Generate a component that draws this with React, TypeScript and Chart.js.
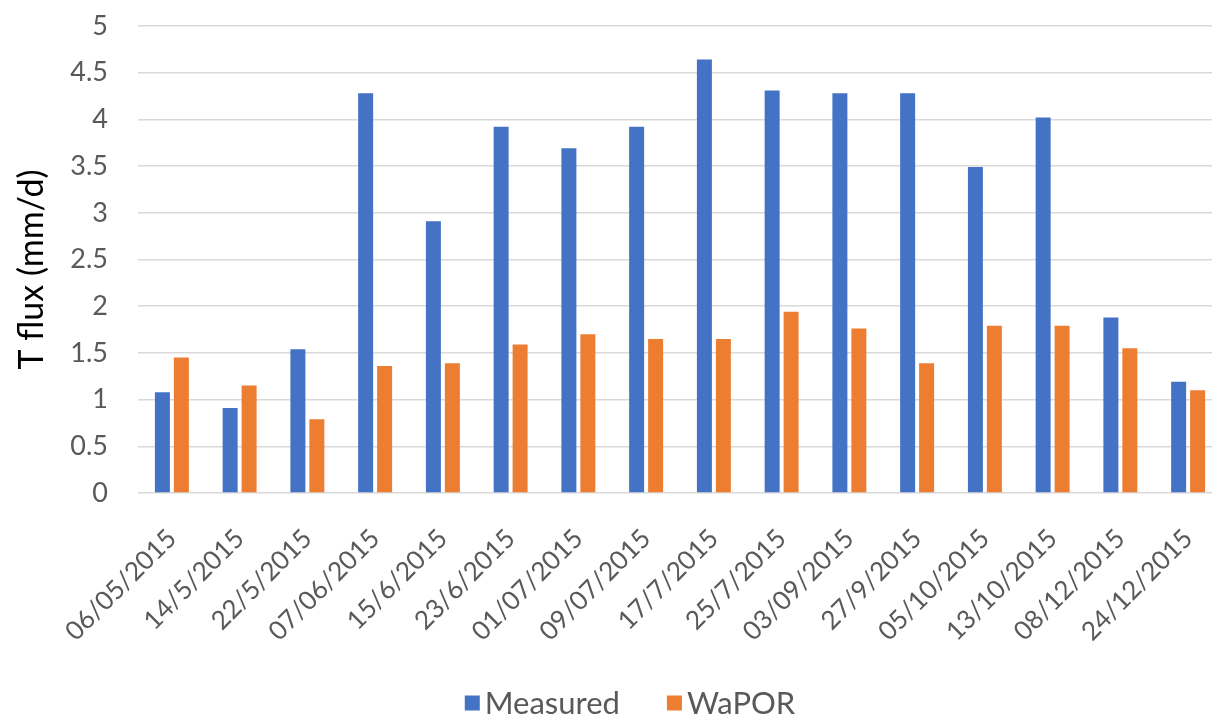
import React, { useEffect, useRef } from "react";
import { Chart, registerables } from "chart.js";

Chart.register(...registerables);

// Sampling dates (category axis)
const dates = [
  "06/05/2015", "14/5/2015", "22/5/2015", "07/06/2015", "15/6/2015", "23/6/2015",
  "01/07/2015", "09/07/2015", "17/7/2015", "25/7/2015", "03/09/2015", "27/9/2015",
  "05/10/2015", "13/10/2015", "08/12/2015", "24/12/2015",
];

// Transpiration flux, mm/d
const measured = [1.08, 0.91, 1.54, 4.28, 2.91, 3.92, 3.69, 3.92, 4.64, 4.31, 4.28, 4.28, 3.49, 4.02, 1.88, 1.19];
const wapor = [1.45, 1.15, 0.79, 1.36, 1.39, 1.59, 1.70, 1.65, 1.65, 1.94, 1.76, 1.39, 1.79, 1.79, 1.55, 1.10];

const yMin = 0;
const yMax = 5;
const yStep = 0.5;
const yTitle = "T flux (mm/d)";

const FONT = "Lato, 'Open Sans', sans-serif";
const GREY = "#595959";

// Rotated y-axis title, drawn left of the tick labels
const yTitlePlugin = {
  id: "yTitle",
  afterDraw(chart: any) {
    const { ctx, chartArea } = chart;
    ctx.save();
    ctx.translate(32, (chartArea.top + chartArea.bottom) / 2 + 10);
    ctx.rotate(-Math.PI / 2);
    ctx.font = `34px ${FONT}`;
    ctx.fillStyle = "#000000";
    ctx.textAlign = "center";
    ctx.textBaseline = "middle";
    ctx.fillText(yTitle, 0, 0);
    ctx.restore();
  },
};

// Compact legend row under the axis labels
const legendPlugin = {
  id: "bottomLegend",
  afterDraw(chart: any) {
    const { ctx } = chart;
    const sets = chart.data.datasets;
    const box = 15;
    const gap = 5;
    const spacing = 47;
    ctx.save();
    ctx.font = `31px ${FONT}`;
    const widths = sets.map((d: any) => box + gap + ctx.measureText(d.label).width);
    const total = widths.reduce((a: number, b: number) => a + b, 0) + spacing * (sets.length - 1);
    let x = 630 - total / 2;
    const y = 703;
    ctx.textBaseline = "middle";
    ctx.textAlign = "left";
    sets.forEach((d: any, i: number) => {
      ctx.fillStyle = d.backgroundColor;
      ctx.fillRect(x, y - box / 2, box, box);
      ctx.fillStyle = GREY;
      ctx.fillText(d.label, x + box + gap, y + 1);
      x += widths[i] + spacing;
    });
    ctx.restore();
  },
};

export default function App() {
  const canvasRef = useRef<HTMLCanvasElement | null>(null);

  useEffect(() => {
    if (!canvasRef.current) return;
    const chart = new Chart(canvasRef.current, {
      type: "bar",
      data: {
        labels: dates,
        datasets: [
          { label: "Measured", data: measured, backgroundColor: "#4472C4" },
          { label: "WaPOR", data: wapor, backgroundColor: "#ED7D31" },
        ],
      },
      plugins: [yTitlePlugin, legendPlugin],
      options: {
        responsive: false,
        animation: false,
        devicePixelRatio: 1,
        layout: { padding: { top: 26, left: 0, right: 0, bottom: 50 } },
        datasets: {
          bar: { categoryPercentage: 0.56, barPercentage: 0.79 },
        },
        plugins: {
          title: { display: false },
          tooltip: { enabled: false },
          legend: { display: false },
        },
        scales: {
          x: {
            grid: { display: false },
            border: { display: false },
            ticks: {
              font: { family: FONT, size: 26 },
              color: GREY,
              maxRotation: 45,
              minRotation: 45,
              autoSkip: false,
              padding: 22,
            },
            afterFit: (scale: any) => {
              scale.height = 174;
              scale.paddingLeft = 0;
              scale.paddingRight = 0;
            },
          },
          y: {
            min: yMin,
            max: yMax,
            grid: { color: "#d9d9d9", lineWidth: 1.5, drawTicks: false },
            border: { display: false },
            ticks: {
              stepSize: yStep,
              font: { family: FONT, size: 27 },
              color: GREY,
              padding: 30,
              callback: (v: any) => String(v),
            },
            afterFit: (scale: any) => {
              scale.width = 138;
              scale.paddingTop = 0;
              scale.paddingBottom = 0;
            },
          },
        },
      },
    });
    return () => chart.destroy();
  }, []);

  return (
    <div
      style={{
        position: "fixed",
        left: 0,
        top: 0,
        width: 1212,
        height: 717,
        overflow: "hidden",
        background: "#ffffff",
      }}
    >
      <canvas ref={canvasRef} width={1222} height={717} style={{ width: 1222, height: 717, display: "block" }} />
    </div>
  );
}
